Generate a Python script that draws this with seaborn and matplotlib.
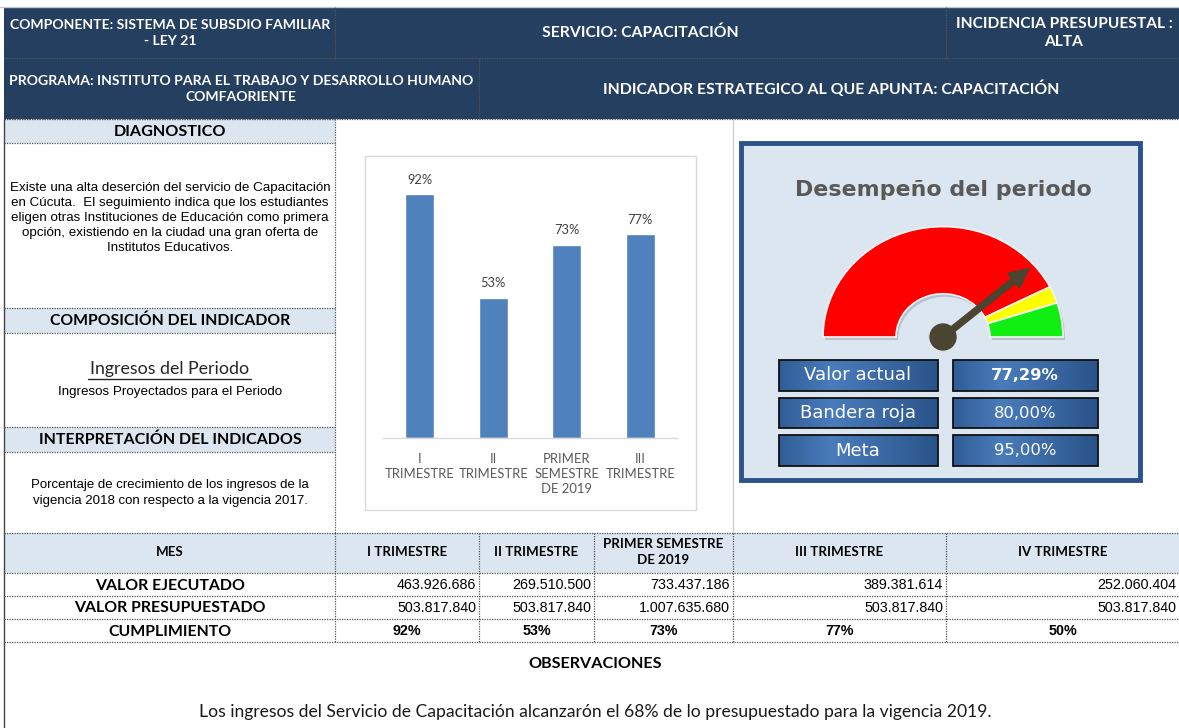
import numpy as np
import matplotlib
matplotlib.use("Agg")
import matplotlib.pyplot as plt
import seaborn as sns
from matplotlib.patches import Rectangle, Wedge, Circle, FancyArrow
from matplotlib.transforms import Affine2D
from matplotlib.colors import LinearSegmentedColormap

# ---------------- data ----------------
periodos = ["I TRIMESTRE", "II TRIMESTRE", "PRIMER SEMESTRE\nDE 2019", "III TRIMESTRE", "IV TRIMESTRE"]
ejecutado = [463926686, 269510500, 733437186, 389381614, 252060404]
presupuestado = [503817840, 503817840, 1007635680, 503817840, 503817840]
cumplimiento = [92, 53, 73, 77, 50]
bar_categorias = ["I\nTRIMESTRE", "II\nTRIMESTRE", "PRIMER\nSEMESTRE\nDE 2019", "III\nTRIMESTRE"]
bar_valores = [92, 53, 73, 77]
valor_actual = 77.29
bandera_roja = 80.00
meta = 95.00
gauge_limites = [0, 85, 90, 100]
gauge_colores = ["#ff0000", "#ffff00", "#11ee11"]

sns.set_theme(style="white")
plt.rcParams["font.family"] = ["DejaVu Sans"]

CAL = ["Lato", "DejaVu Sans"]
ARI = ["Liberation Sans", "DejaVu Sans"]
VER = ["DejaVu Sans"]
NAVY = "#243F60"
LBLUE = "#DCE6F1"
DOT = dict(color="#555555", lw=0.9, ls=(0, (1, 1)))

W, H = 1179, 728
fig = plt.figure(figsize=(W / 100, H / 100), dpi=100)
ax = fig.add_axes([0, 0, 1, 1])
ax.axis("off")


def rect(x0, y0, x1, y1, fc, ec="none", lw=0, z=1):
    ax.add_patch(Rectangle((x0, y0), x1 - x0, y1 - y0, facecolor=fc, edgecolor=ec, lw=lw, zorder=z))


def hl(y, x0, x1, **kw):
    ax.plot([x0, x1], [y, y], zorder=3, **kw)


def vl(x, y0, y1, **kw):
    ax.plot([x, x], [y0, y1], zorder=3, **kw)


def txt(x, y, s, size, fam=CAL, weight="normal", color="black", ha="center", ls=1.2, z=5):
    return ax.text(x, y, s, fontsize=size, family=fam, fontweight=weight, color=color,
                   ha=ha, va="center", multialignment="center", linespacing=ls, zorder=z)


# ---------------- header ----------------
rect(4, 7, W, 119, NAVY)
hl(7, 0, W, color="#c8c8c8", lw=1)
hl(58, 4, W, **DOT)
hl(119, 4, W, **DOT)
vl(335, 7, 58, **DOT)
vl(946, 7, 58, **DOT)
vl(479, 58, 119, **DOT)
txt(170, 33, "COMPONENTE: SISTEMA DE SUBSDIO FAMILIAR\n- LEY 21", 10.1, weight="bold", color="white", ls=1.45)
txt(640, 33, "SERVICIO: CAPACITACIÓN", 11.3, weight="bold", color="white")
txt(1064, 33, "INCIDENCIA PRESUPUESTAL :\nALTA", 11.2, weight="bold", color="white", ls=1.3)
txt(241, 89, "PROGRAMA: INSTITUTO PARA EL TRABAJO Y DESARROLLO HUMANO\nCOMFAORIENTE", 10.1,
    weight="bold", color="white", ls=1.45)
txt(831, 89, "INDICADOR ESTRATEGICO AL QUE APUNTA: CAPACITACIÓN", 11.4, weight="bold", color="white")

# ---------------- left panel ----------------
for (y0, y1) in [(119, 143), (308, 333), (427, 452)]:
    rect(4, y0, 335, y1, LBLUE)
    hl(y0, 4, 335, **DOT)
    hl(y1, 4, 335, **DOT)
vl(335, 119, 533, **DOT)
vl(4, 119, 728, color="#444444", lw=1)
vl(733, 119, 533, color="#d0d0d0", lw=1)

txt(170, 132, "DIAGNOSTICO", 11.6, weight="bold")
txt(170, 218, "Existe una alta deserción del servicio de Capacitación\nen Cúcuta.  El seguimiento indica que los estudiantes\n"
    "eligen otras Instituciones de Educación como primera\nopción, existiendo en la ciudad una gran oferta de\n"
    "Institutos Educativos.", 9.6, fam=ARI, ls=1.36)
txt(170, 321, "COMPOSICIÓN DEL INDICADOR", 11.3, weight="bold")
txt(170, 369, "Ingresos del Periodo", 12.8, color="#262626")
hl(379, 88, 251, color="#262626", lw=1)
txt(170, 392, "Ingresos Proyectados para el Periodo", 9.6, fam=ARI)
txt(170, 440, "INTERPRETACIÓN DEL INDICADOS", 11.5, weight="bold")
txt(170, 493, "Porcentaje de crecimiento de los ingresos de la\nvigencia 2018 con respecto a la vigencia 2017.",
    9.5, fam=ARI, ls=1.5)

# ---------------- bar chart frame ----------------
rect(365, 156, 696, 510, "white", ec="#d9d9d9", lw=1, z=2)

# ---------------- gauge panel ----------------
rect(741, 143, 1140, 480, LBLUE, ec="#2B5389", lw=3.5, z=2)
txt(943, 190, "Desempeño del periodo", 15.9, fam=VER, weight="bold", color="#595959")

gc = (943, 337)
r_out, r_w, sy = 120, 73, 0.92
squash = Affine2D().translate(-gc[0], -gc[1]).scale(1, sy).translate(gc[0], gc[1]) + ax.transData
shadow = Affine2D().translate(-gc[0], -gc[1]).scale(1, sy).translate(gc[0] + 2, gc[1] + 3) + ax.transData
for i, col in enumerate(gauge_colores):
    a0 = 180 + 1.8 * gauge_limites[i]
    a1 = 180 + 1.8 * gauge_limites[i + 1]
    ax.add_patch(Wedge(gc, r_out, a0, a1, width=r_w, facecolor="#9aa6b4",
                       edgecolor="none", zorder=3, alpha=0.55, transform=shadow))
    ax.add_patch(Wedge(gc, r_out, a0, a1, width=r_w, facecolor=col, edgecolor="#f4f4f4", lw=1.2,
                       zorder=4, transform=squash))

th = np.radians(180 + 1.8 * valor_actual)
L = 0.95 * r_out
dx, dy = L * np.cos(th), L * np.sin(th) * sy
ax.add_patch(FancyArrow(gc[0], gc[1], dx, dy, width=6, head_width=19,
                        head_length=20, length_includes_head=True, color="#4A4431", zorder=6))
ax.add_patch(Circle(gc, 13, color="#4A4431", zorder=7))

grad = np.linspace(0, 1, 100).reshape(1, -1)
cmap_box = LinearSegmentedColormap.from_list("b", ["#305D97", "#4A7CBB", "#3A68A3", "#2A5489"])
filas_gauge = [("Valor actual", f"{valor_actual:.2f}%".replace(".", ","), "bold"),
               ("Bandera roja", f"{bandera_roja:.2f}%".replace(".", ","), "normal"),
               ("Meta", f"{meta:.2f}%".replace(".", ","), "normal")]
for (lab, val, wt), (y0, y1) in zip(filas_gauge, [(360, 391), (398, 428), (435, 466)]):
    for (x0, x1) in [(779, 938), (953, 1098)]:
        ax.imshow(grad, cmap=cmap_box, extent=(x0, x1, y1, y0), aspect="auto", zorder=4)
        rect(x0, y0, x1, y1, "none", ec="#111111", lw=1.3, z=5)
    txt(858, (y0 + y1) / 2, lab, 13, fam=VER, color="white", z=6)
    txt(1025, (y0 + y1) / 2, val, 11.8, fam=VER, color="white", weight=wt, z=6)

# ---------------- table ----------------
cols = [4, 335, 479, 594, 733, 946, W]
rows = [533, 573, 596, 619, 642]
rect(4, 533, W, 573, LBLUE)
for y in rows:
    hl(y, 4, W, **DOT)
for x in cols[1:-1]:
    vl(x, 533, 642, **DOT)
txt(170, 552, "MES", 9.6, weight="bold")
for i, p in enumerate(periodos):
    cx = (cols[i + 1] + cols[i + 2]) / 2
    txt(cx, 552, p, 9.6, weight="bold", ls=1.35)
row_labels = ["VALOR EJECUTADO", "VALOR PRESUPUESTADO", "CUMPLIMIENTO"]
for r, lab in enumerate(row_labels):
    cy = (rows[r + 1] + rows[r + 2]) / 2 + 1
    txt(170, cy, lab, 11.4, weight="bold")
fmt = lambda v: f"{v:,}".replace(",", ".")
for i in range(len(periodos)):
    xr = cols[i + 2] - 3
    cx = (cols[i + 1] + cols[i + 2]) / 2
    txt(xr, 585, fmt(ejecutado[i]), 10.3, fam=ARI, ha="right")
    txt(xr, 608, fmt(presupuestado[i]), 10.3, fam=ARI, ha="right")
    txt(cx, 631, f"{cumplimiento[i]}%", 10.3, fam=ARI, weight="bold")

txt(595, 664, "OBSERVACIONES", 11.6, weight="bold")
txt(595, 712, "Los ingresos del Servicio de Capacitación alcanzarón el 68% de lo presupuestado para la vigencia 2019.",
    12.6, color="#1a1a1a")

ax.set_xlim(0, W)
ax.set_ylim(H, 0)

# ---------------- bar chart (seaborn) ----------------
axb = fig.add_axes([383 / W, (H - 438) / H, 294 / W, 265 / H])
sns.barplot(x=bar_categorias, y=bar_valores, color="#4F81BD", saturation=1, width=0.4, ax=axb)
axb.set_ylim(0, 100)
axb.set_xlim(-0.5, len(bar_categorias) - 0.5)
axb.patch.set_alpha(0)
for s in ["top", "right", "left"]:
    axb.spines[s].set_visible(False)
axb.spines["bottom"].set_color("#d9d9d9")
axb.spines["bottom"].set_linewidth(1)
axb.set_yticks([])
axb.set_xlabel("")
axb.set_ylabel("")
axb.tick_params(axis="x", length=0, pad=11)
for lbl in axb.get_xticklabels():
    lbl.set_fontfamily(CAL)
    lbl.set_fontsize(9.4)
    lbl.set_color("#595959")
    lbl.set_linespacing(1.3)
    lbl.set_verticalalignment("top")
axb.bar_label(axb.containers[0], labels=[f"{v}%" for v in bar_valores], padding=6,
              fontsize=9.3, color="#404040", family=CAL)

fig.savefig("out.png", dpi=100)
